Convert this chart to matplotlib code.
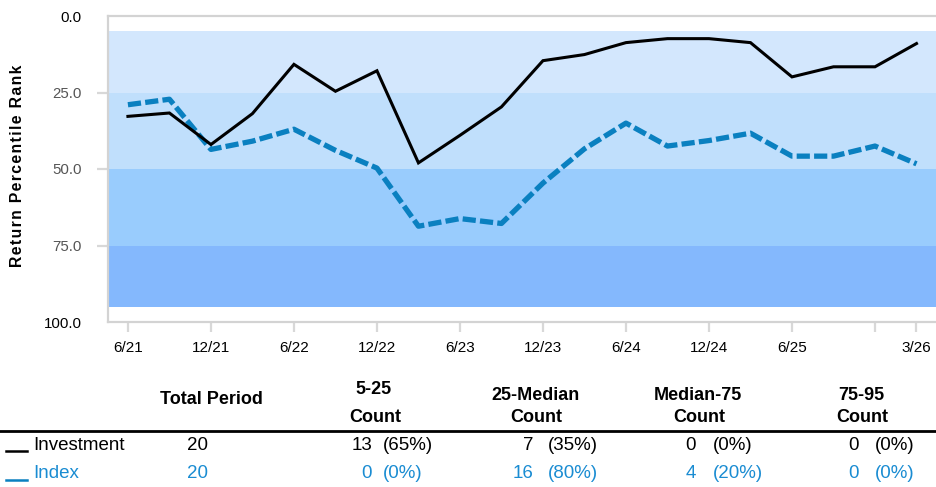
import matplotlib.pyplot as plt
from matplotlib.lines import Line2D

plt.rcParams['font.family'] = ['Liberation Sans', 'DejaVu Sans']

# quarterly points 6/21 .. 3/26
quarters = ['6/21', '9/21', '12/21', '3/22', '6/22', '9/22', '12/22', '3/23', '6/23', '9/23',
            '12/23', '3/24', '6/24', '9/24', '12/24', '3/25', '6/25', '9/25', '12/25', '3/26']
investment = [32.8, 31.7, 42.0, 31.9, 15.8, 24.6, 17.9, 48.0, 39.0, 29.7,
              14.6, 12.6, 8.7, 7.4, 7.4, 8.7, 19.9, 16.6, 16.6, 9.0]
index = [29.0, 27.2, 43.6, 40.9, 37.0, 43.9, 49.7, 68.7, 66.2, 67.8,
         54.6, 43.4, 35.0, 42.5, 40.7, 38.3, 45.8, 45.8, 42.5, 48.3]

band_edges = [5, 25, 50, 75, 95]
band_colors = ['#d3e7fd', '#c0dffc', '#99ccfd', '#84b8fd']

tick_pos = [0, 2, 4, 6, 8, 10, 12, 14, 16, 18, 19]
tick_labels = ['6/21', '12/21', '6/22', '12/22', '6/23', '12/23', '6/24', '12/24', '6/25', '', '3/26']

# summary table
col_headers = [('5-25', 'Count'), ('25-Median', 'Count'), ('Median-75', 'Count'), ('75-95', 'Count')]
series_names = ['Investment', 'Index']
totals = [20, 20]
counts = [[13, 7, 0, 0], [0, 16, 4, 0]]

line_color = '#0a80c0'
text_blue = '#1a8cd2'
W, H = 936, 487


def fx(px):
    return px / W


def fy(py):
    return 1 - py / H


fig = plt.figure(figsize=(9.36, 4.87), dpi=100)
ax = fig.add_axes([fx(108), fy(322), 1 - fx(108), fy(16) - fy(322)])

for i in range(4):
    ax.axhspan(band_edges[i], band_edges[i + 1], color=band_colors[i], lw=0, zorder=0)

x = list(range(len(quarters)))
ax.plot(x, investment, color='black', lw=2.2, zorder=3, solid_joinstyle='miter')
ax.plot(x, index, color=line_color, lw=3.8, dashes=(2.5, 0.8), zorder=2)

ax.set_ylim(100, 0)
ax.set_xlim(-0.48, 19.47)
ax.set_yticks([0, 25, 50, 75, 100])
ax.set_yticklabels(['0.0', '25.0', '50.0', '75.0', '100.0'])
ax.set_xticks(tick_pos)
ax.set_xticklabels(tick_labels)

for s in ['left', 'top', 'bottom']:
    ax.spines[s].set_color('#d3d3d3')
    ax.spines[s].set_linewidth(1.6)
ax.spines['right'].set_visible(False)

ax.tick_params(axis='x', length=7.5, width=1.6, color='#d8d8d8', pad=6, labelsize=11)
ax.tick_params(axis='y', length=8, width=1.6, color='#d8d8d8', pad=11, labelsize=10.8)
yt = ax.yaxis.get_major_ticks()
for t in (yt[0], yt[-1]):
    t.tick1line.set_visible(False)
for i, lab in enumerate(ax.get_yticklabels()):
    lab.set_color('black' if i in (0, 4) else '#555555')

fig.text(fx(18), fy(166), '\u200a'.join('Return Percentile Rank'), rotation=90,
         ha='center', va='center', fontsize=11.3, fontweight='bold')

# table header
fig.text(fx(211), fy(400), 'Total Period', ha='center', va='center', fontsize=13, fontweight='bold')
head_x = [374, 535, 698, 861]
head_y = [(389, 418), (396, 417), (396, 417), (396, 417)]
for (h1, h2), hx, (y1, y2) in zip(col_headers, head_x, head_y):
    fig.text(fx(hx), fy(y1), h1, ha='center', va='center', fontsize=13, fontweight='bold')
    fig.text(fx(hx + 1), fy(y2), h2, ha='center', va='center', fontsize=13, fontweight='bold')

fig.add_artist(Line2D([0, 1], [fy(431), fy(431)], color='black', lw=2, transform=fig.transFigure))

row_y = [445, 474]
row_colors = ['black', text_blue]
legend_colors = ['black', line_color]
cnt_right = [372, 534, 696, 859]
pct_left = [383, 548, 713, 875]
for name, tot, cnts, ry, tc, lc in zip(series_names, totals, counts, row_y, row_colors, legend_colors):
    fig.add_artist(Line2D([fx(6), fx(27)], [fy(ry + 6), fy(ry + 6)], color=lc, lw=1.8,
                          transform=fig.transFigure))
    fig.text(fx(33), fy(ry), name, ha='left', va='center', fontsize=13.5, color=tc)
    fig.text(fx(198), fy(ry), str(tot), ha='center', va='center', fontsize=13.5, color=tc)
    for c, cr, pl in zip(cnts, cnt_right, pct_left):
        fig.text(fx(cr), fy(ry), str(c), ha='right', va='center', fontsize=13.5, color=tc)
        fig.text(fx(pl), fy(ry), '(%d%%)' % round(100 * c / tot), ha='left', va='center',
                 fontsize=13.5, color=tc)

fig.savefig('out.png', dpi=100)
